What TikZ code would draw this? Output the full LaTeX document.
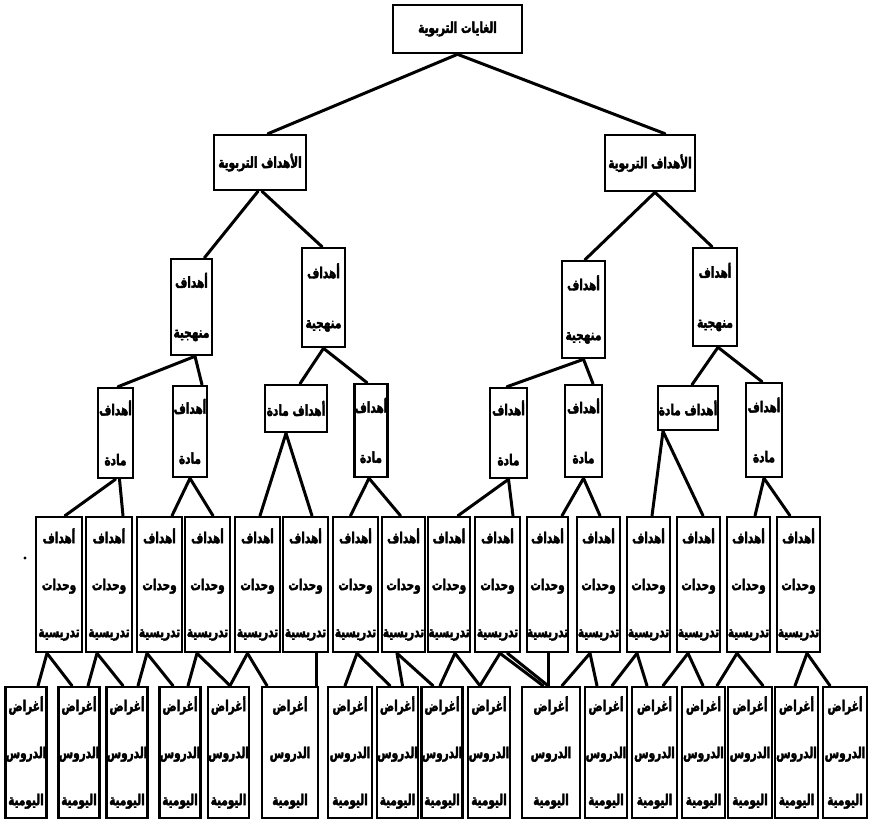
\documentclass[tikz,border=0pt]{standalone}
\usepackage{fontspec}
\usetikzlibrary{calc}
\newfontfamily\arabicfont[Script=Arabic,FakeStretch=0.7,BoldFeatures={FakeBold=2.5}]{DejaVu Sans}
\TeXXeTstate=1
\newcommand{\artxt}[1]{\beginR #1\endR}
\tikzset{
  box/.style={draw=black, line width=2.6pt, fill=white, inner sep=0pt, align=center},
  bigtxt/.style={font=\arabicfont\bfseries\fontsize{15}{17}\selectfont},
  twotxt/.style={font=\arabicfont\bfseries\fontsize{15}{50}\selectfont},
  threetxt/.style={font=\arabicfont\bfseries\fontsize{15}{47}\selectfont},
  conn/.style={line width=3pt, line cap=round}
}
\begin{document}
\begin{tikzpicture}[x=1pt,y=-1pt]
\useasboundingbox (0,0) rectangle (875,833);
% level 0
\node[box,bigtxt,minimum width=129pt,minimum height=48pt] (T) at (457.5,29) {\artxt{الغايات التربوية}};
% level 1
\node[box,bigtxt,minimum width=92pt,minimum height=55pt] (P1) at (260,162.5) {\artxt{الأهداف التربوية}};
\node[box,bigtxt,minimum width=90pt,minimum height=56pt] (P2) at (650,163) {\artxt{الأهداف التربوية}};
% level 2
\node[box,twotxt,minimum width=41pt,minimum height=96pt] (A) at (191.5,307) {\artxt{أهداف}\\\artxt{منهجية}};
\node[box,twotxt,minimum width=43pt,minimum height=99pt] (B) at (323.5,297.5) {\artxt{أهداف}\\\artxt{منهجية}};
\node[box,twotxt,minimum width=43pt,minimum height=97pt] (C) at (583.5,309.5) {\artxt{أهداف}\\\artxt{منهجية}};
\node[box,twotxt,minimum width=44pt,minimum height=98pt] (D) at (715,297) {\artxt{أهداف}\\\artxt{منهجية}};
% level 3
\node[box,twotxt,minimum width=35pt,minimum height=90pt] (E) at (115.5,433) {\artxt{أهداف}\\\artxt{مادة}};
\node[box,twotxt,minimum width=34pt,minimum height=91pt] (F) at (190,431.5) {\artxt{أهداف}\\\artxt{مادة}};
\node[box,twotxt,minimum width=62pt,minimum height=47pt] (G) at (296,408.5) {\artxt{أهداف مادة}};
\node[box,twotxt,minimum width=32pt,minimum height=93pt] (H) at (371,430.5) {\artxt{أهداف}\\\artxt{مادة}};
\node[box,twotxt,minimum width=37pt,minimum height=90pt] (I) at (508.5,433) {\artxt{أهداف}\\\artxt{مادة}};
\node[box,twotxt,minimum width=37pt,minimum height=92pt] (J) at (583.5,431) {\artxt{أهداف}\\\artxt{مادة}};
\node[box,twotxt,minimum width=60pt,minimum height=44pt] (K) at (688,408) {\artxt{أهداف مادة}};
\node[box,twotxt,minimum width=36pt,minimum height=94pt] (L) at (764,430) {\artxt{أهداف}\\\artxt{مادة}};
% level 4
\foreach \i/\cx/\w in {1/59/46,2/109/46,3/159.5/45,4/207.5/45,5/257.5/45,6/305.5/45,7/355.5/45,8/403.5/43,
                      9/449/42,10/497.5/45,11/547.5/41,12/598.5/43,13/648.5/43,14/698.5/43,15/748.5/43,16/798.5/43}
  \node[box,threetxt,minimum width=\w pt,minimum height=135pt] (u\i) at (\cx,584.5)
    {\artxt{أهداف}\\\artxt{وحدات}\\\artxt{تدريسية}};
% level 5
\foreach \i/\cx/\w in {1/26/38,2/79/38,3/127/40,4/180/40,5/228.5/37,6/290/56,7/350/44,8/397.5/41,9/442/40,
                      10/489/42,11/551/58,12/606/42,13/654.5/45,14/703.5/43,15/750/44,16/796.5/43,17/845/44}
  \node[box,threetxt,minimum width=\w pt,minimum height=131pt] (b\i) at (\cx,752.5)
    {\artxt{أغراض}\\\artxt{الدروس}\\\artxt{اليومية}};
% connectors
\foreach \p/\px/\c/\cx in {
  T/0/P1/8, T/0/P2/15,
  P1/-2/A/13, P1/2/B/-1.5, P2/5/C/1.5, P2/5/D/-3,
  A/3.5/E/2.5, A/3.5/F/12, B/0/G/4, B/0/H/-4, C/0/I/-1.5, C/0/J/9.5, D/3/K/4, D/3/L/-2,
  E/0/u1/6, E/4/u2/14, F/0/u3/12.5, F/0/u4/5.5, G/-10/u5/2.5, G/-10/u6/6.5, H/-2/u7/-5, H/-2/u8/-3,
  I/0/u9/9, I/0/u10/15.5, J/0/u11/14.5, J/0/u12/1.5, K/-25/u13/3.5, K/-25/u14/4.5, L/0/u15/6.5, L/0/u16/-8.5,
  u1/-12/b1/12, u1/-12/b2/-7, u2/-12/b2/9, u2/-12/b3/-4, u3/-12.5/b3/11, u3/-12.5/b4/-7,
  u4/-10.5/b4/8, u4/-10.5/b5/1.5, u5/-10/b5/1.5, u5/-10/b6/-23, u6/10.5/b6/26,
  u7/1.5/b7/-5, u7/1.5/b8/-7.5, u8/-6.5/b8/5, u8/-6.5/b9/-9,
  u9/6/b9/-2, u9/6/b10/-9, u10/2.5/b10/-9, u10/2.5/b11/-8, u10/10/b11/-3, u11/0.5/b11/-3,
  u12/-8.5/b11/11, u12/-8.5/b12/-9, u13/-11.5/b12/6, u13/-11.5/b13/-7.5,
  u14/-10.5/b13/8.5, u14/-10.5/b14/-0.5, u15/-11.5/b14/13.5, u15/-11.5/b15/13,
  u16/8.5/b16/-1.5, u16/8.5/b17/-15}
  \draw[conn] ($(\p.south)+(\px,0)$) -- ($(\c.north)+(\cx,0)$);
\fill (25,558) circle (1.6pt);
\end{tikzpicture}
\end{document}
